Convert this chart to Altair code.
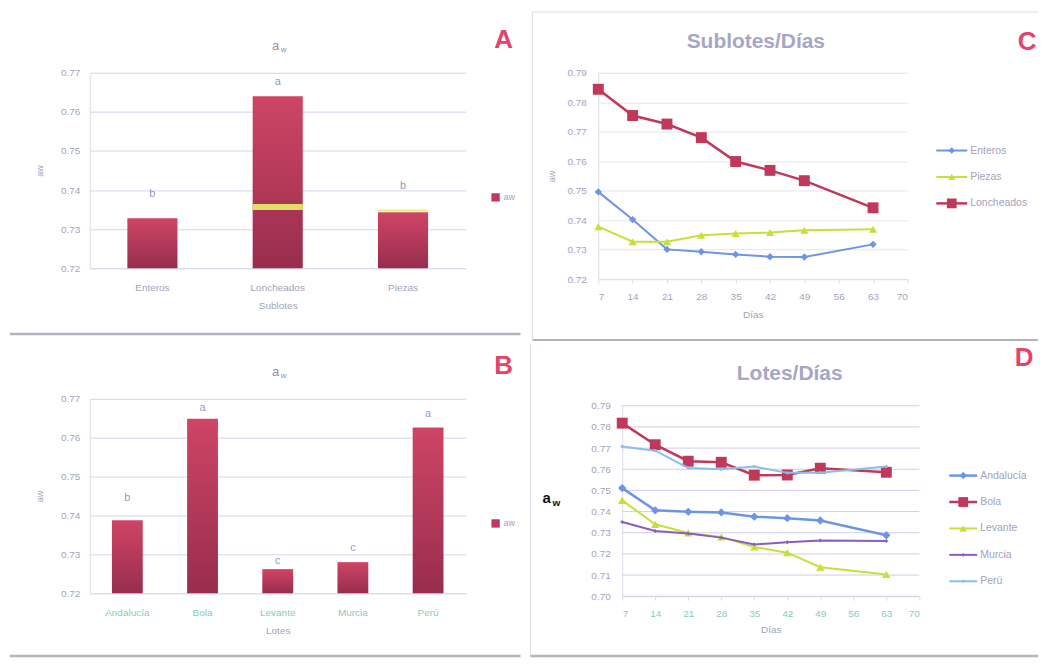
import altair as alt
import pandas as pd

# ---------------- data ----------------
# Panel A (Sublotes)
sublotes = ["Enteros", "Loncheados", "Piezas"]
aw_sublotes = [0.7328, 0.7640, 0.7343]
letras_sublotes = ["b", "a", "b"]
pos_letras_sublotes = [0.7391, 0.7677, 0.7409]
banda_sublotes = ["Loncheados", "Piezas"]
banda_inf = [0.7349, 0.7345]
banda_sup = [0.7364, 0.7350]

# Panel B (Lotes)
lotes = ["Andalucía", "Bola", "Levante", "Murcia", "Perú"]
aw_lotes = [0.7388, 0.7649, 0.7262, 0.7280, 0.7626]
letras_lotes = ["b", "a", "c", "c", "a"]
pos_letras_lotes = [0.7444, 0.7677, 0.7282, 0.7316, 0.7662]

# Panel C (Sublotes/Días)
dias = [7, 14, 21, 28, 35, 42, 49, 63]
c_enteros = [0.7496, 0.7402, 0.7301, 0.7293, 0.7284, 0.7276, 0.7275, 0.7318]
c_piezas = [0.7378, 0.7327, 0.7327, 0.7349, 0.7355, 0.7358, 0.7366, 0.7369]
c_loncheados = [0.7844, 0.7755, 0.7726, 0.7680, 0.7599, 0.7569, 0.7534, 0.7442]

# Panel D (Lotes/Días)
d_andalucia = [0.7511, 0.7406, 0.7399, 0.7396, 0.7376, 0.7369, 0.7358, 0.7288]
d_bola = [0.7818, 0.7716, 0.7638, 0.7633, 0.7572, 0.7573, 0.7605, 0.7586]
d_levante = [0.7453, 0.7340, 0.7299, 0.7280, 0.7233, 0.7206, 0.7137, 0.7103]
d_murcia = [0.7351, 0.7308, 0.7296, 0.7277, 0.7245, 0.7255, 0.7263, 0.7261]
d_peru = [0.7708, 0.7688, 0.7606, 0.7600, 0.7613, 0.7583, 0.7584, 0.7613]

ticks_ab = [0.72, 0.73, 0.74, 0.75, 0.76, 0.77]
ticks_c = [0.72, 0.73, 0.74, 0.75, 0.76, 0.77, 0.78, 0.79]
ticks_d = [0.70, 0.71, 0.72, 0.73, 0.74, 0.75, 0.76, 0.77, 0.78, 0.79]
ticks_dias = [7, 14, 21, 28, 35, 42, 49, 56, 63, 70]

# ---------------- style ----------------
TXT = "#A3A3BC"
TITLE = "#A6A6C6"
TEAL = "#86CDB8"
PINK = "#E4436B"
GRID = "#D4D4EC"
SEP = "#B4B4C0"
FAINT = "#DCDCE6"
BLUE = "#6E95E4"
YG = "#C6E03A"
CRIM = "#C0385A"
PURP = "#8A5CC2"
LBLUE = "#88BEF0"

bar_fill = alt.Gradient(
    gradient="linear", x1=0, x2=0, y1=0, y2=1,
    stops=[alt.GradientStop(color="#CF4565", offset=0),
           alt.GradientStop(color="#982D4E", offset=1)],
)

one = pd.DataFrame({"k": [0]})


def text_at(x, y, s, size=10, color=TXT, weight="normal", align="center", angle=0):
    return alt.Chart(one).mark_text(
        align=align, baseline="middle", fontSize=size, color=color,
        fontWeight=weight, angle=angle,
    ).encode(x=alt.value(x), y=alt.value(y), text=alt.value(s))


def hline(x0, x1, y, color, w):
    return alt.Chart(one).mark_rule(color=color, strokeWidth=w).encode(
        x=alt.value(x0), x2=alt.value(x1), y=alt.value(y))


def vline(x, y0, y1, color, w):
    return alt.Chart(one).mark_rule(color=color, strokeWidth=w).encode(
        x=alt.value(x), y=alt.value(y0), y2=alt.value(y1))


def legend_line(x0, x1, y, color, shape, size, label, sw):
    return [
        hline(x0, x1, y, color, sw),
        alt.Chart(one).mark_point(shape=shape, filled=True, color=color, size=size, opacity=1).encode(
            x=alt.value((x0 + x1) / 2), y=alt.value(y)),
        text_at(x1 + 3, y, label, size=10.5, align="left"),
    ]


def legend_square(x, y, label):
    return [
        alt.Chart(one).mark_point(shape="square", filled=True, color=CRIM, size=70, opacity=1).encode(
            x=alt.value(x), y=alt.value(y)),
        text_at(x + 8, y, label, size=9, align="left"),
    ]


def bar_panel(cats, vals, letras, pos_letras, xtitle, letter, w, h, label_color, band=None, bottom_line=None):
    df = pd.DataFrame({"cat": cats, "aw": vals, "letra": letras, "pos": pos_letras})
    pad_i = 0.6 if len(cats) == 3 else 0.59
    pad_o = pad_i / 2
    xs = alt.Scale(domain=cats, paddingInner=pad_i, paddingOuter=pad_o)
    ys = alt.Scale(domain=[0.72, 0.77], zero=False, nice=False)
    xax = alt.Axis(title=xtitle, labelAngle=0, labelColor=label_color, labelFontSize=10,
                   labelPadding=14, ticks=False, domainColor=FAINT, titleColor=TXT,
                   titleFontSize=10, titleFontWeight="normal", titlePadding=8)
    yax = alt.Axis(values=ticks_ab, format=".2f", labelColor=TXT, labelFontSize=10,
                   gridColor=GRID, domainColor=FAINT, ticks=False, labelPadding=10,
                   title="aw", titleColor=TXT, titleFontSize=9, titleFontWeight="normal",
                   titlePadding=16)
    X = lambda f: alt.X(f, scale=xs, sort=cats, axis=xax)
    Y = lambda f: alt.Y(f, scale=ys, axis=yax)
    base = alt.Chart(df)
    bars = base.mark_bar(color=bar_fill).encode(x=X("cat:N"), y=Y("aw:Q"), y2=alt.datum(0.72))
    letras_l = base.mark_text(fontSize=11, color="#9A9AB4", baseline="middle").encode(
        x=X("cat:N"), y=Y("pos:Q"), text="letra:N")
    layers = [bars]
    if band is not None:
        bdf = pd.DataFrame({"cat": band[0], "lo": band[1], "hi": band[2]})
        layers.append(alt.Chart(bdf).mark_bar(color="#E6F06A", opacity=0.9).encode(
            x=X("cat:N"), y=Y("lo:Q"), y2="hi:Q"))
    layers.append(letras_l)
    layers += [
        text_at(w / 2 - 2, -27, "a", size=13, color="#9090AA"),
        text_at(w / 2 + 6, -23, "w", size=8, color="#9090AA"),
        text_at(415, -33, letter, size=26, color=PINK, weight="bold"),
    ]
    layers += legend_square(407, 125, "aw")
    layers.append(hline(-80, 432, bottom_line, SEP, 2.5))
    return alt.layer(*layers).properties(width=w, height=h)


# ---------------- Panel A ----------------
panel_a = bar_panel(sublotes, aw_sublotes, letras_sublotes, pos_letras_sublotes,
                    "Sublotes", "A", 377, 196, TXT,
                    band=(banda_sublotes, banda_inf, banda_sup), bottom_line=262)

# ---------------- Panel B ----------------
panel_b = bar_panel(lotes, aw_lotes, letras_lotes, pos_letras_lotes,
                    "Lotes", "B", 377, 195, TEAL, bottom_line=258)

# ---------------- Panel C ----------------
c_series = ["Enteros", "Piezas", "Loncheados"]
c_colors = [BLUE, YG, CRIM]
c_shapes = ["diamond", "triangle-up", "square"]
c_sizes = [55, 65, 120]
c_widths = [2, 2, 2.5]
c_values = [c_enteros, c_piezas, c_loncheados]

xs_c = alt.Scale(domain=[7, 70], nice=False, zero=False)
ys_c = alt.Scale(domain=[0.72, 0.79], nice=False, zero=False)
xax_c = alt.Axis(values=ticks_dias, labelColor=TXT, labelFontSize=10, labelPadding=8, tickColor=FAINT,
                 tickSize=4, domainColor=FAINT, title="Días", titleColor=TXT, titleFontSize=10,
                 titleFontWeight="normal", titlePadding=8, grid=False)
yax_c = alt.Axis(values=ticks_c, format=".2f", labelColor=TXT, labelFontSize=10, gridColor="#E4E4EE",
                 domainColor=FAINT, ticks=False, labelPadding=12, title="aw", titleColor=TXT,
                 titleFontSize=9, titleFontWeight="normal", titlePadding=10)
c_layers = []
for name, col, shp, sz, sw, vals in zip(c_series, c_colors, c_shapes, c_sizes, c_widths, c_values):
    df = pd.DataFrame({"dia": dias, "aw": vals})
    enc = dict(x=alt.X("dia:Q", scale=xs_c, axis=xax_c), y=alt.Y("aw:Q", scale=ys_c, axis=yax_c))
    c_layers.append(alt.Chart(df).mark_line(color=col, strokeWidth=sw).encode(**enc))
    c_layers.append(alt.Chart(df).mark_point(shape=shp, filled=True, color=col, size=sz, opacity=1).encode(**enc))
c_layers += [
    text_at(158, -31, "Sublotes/Días", size=21, color=TITLE, weight="bold"),
    text_at(430, -31, "C", size=26, color=PINK, weight="bold"),
]
for i, (name, col, shp, sz, sw) in enumerate(zip(c_series, c_colors, c_shapes, c_sizes, c_widths)):
    c_layers += legend_line(339, 370, 78 + i * 26.5, col, shp, sz * 0.8, name, sw)
c_layers += [
    hline(-66, 441, -61, FAINT, 1),
    vline(-66, -61, 268, FAINT, 1),
    hline(-66, 441, 268, SEP, 2),
]
panel_c = alt.layer(*c_layers).properties(width=310, height=207)

# ---------------- Panel D ----------------
d_series = ["Andalucía", "Bola", "Levante", "Murcia", "Perú"]
d_colors = [BLUE, CRIM, YG, PURP, LBLUE]
d_shapes = ["diamond", "square", "triangle-up", "cross", "circle"]
d_sizes = [70, 120, 70, 12, 10]
d_widths = [2.5, 2.5, 2, 2, 2]
d_values = [d_andalucia, d_bola, d_levante, d_murcia, d_peru]

xs_d = alt.Scale(domain=[7, 70], range=[24, 322], nice=False, zero=False)
ys_d = alt.Scale(domain=[0.70, 0.79], range=[198, 7], nice=False, zero=False)
xax_d = alt.Axis(values=ticks_dias, labelColor=TEAL, labelFontSize=10, labelPadding=8, tickColor=FAINT,
                 tickSize=4, domainColor=FAINT, title="Días", titleColor=TXT, titleFontSize=10,
                 titleFontWeight="normal", titlePadding=6, grid=False)
yax_d = alt.Axis(values=ticks_d, format=".2f", labelColor=TXT, labelFontSize=10, grid=False,
                 domainColor=FAINT, ticks=False, labelPadding=12, offset=-24, title=None)
grid_df = pd.DataFrame({"aw": ticks_d})
d_layers = [alt.Chart(grid_df).mark_rule(color="#D2CCEC", strokeWidth=1).encode(
    y=alt.Y("aw:Q", scale=ys_d, axis=yax_d), x=alt.value(24), x2=alt.value(322))]
for i, (name, col, shp, sz, sw, vals) in enumerate(zip(d_series, d_colors, d_shapes, d_sizes, d_widths, d_values)):
    df = pd.DataFrame({"dia": dias, "aw": vals})
    enc = dict(x=alt.X("dia:Q", scale=xs_d, axis=xax_d), y=alt.Y("aw:Q", scale=ys_d, axis=yax_d))
    d_layers.append(alt.Chart(df).mark_line(color=col, strokeWidth=sw).encode(**enc))
    d_layers.append(alt.Chart(df).mark_point(shape=shp, filled=True, color=col, size=sz, opacity=1).encode(**enc))
d_layers += [
    text_at(192, -25, "Lotes/Días", size=21, color=TITLE, weight="bold"),
    text_at(427, -41, "D", size=26, color=PINK, weight="bold"),
    text_at(-56, 99, "a", size=15, color="#111111", weight="bold", align="left"),
    text_at(-46, 105, "w", size=10, color="#111111", weight="bold", align="left"),
]
for i, (name, col, shp, sz, sw) in enumerate(zip(d_series, d_colors, d_shapes, d_sizes, d_widths)):
    d_layers += legend_line(352, 380, 77 + i * 26.5, col, shp, sz * 0.8, name, sw)
d_layers += [
    vline(-68, -55, 258, FAINT, 1),
    hline(-68, 441, 258, SEP, 2.5),
]
panel_d = alt.layer(*d_layers).properties(width=322, height=198)

# ---------------- layout ----------------
chart = alt.concat(
    panel_a, panel_c, panel_b, panel_d,
    columns=2, spacing={"row": 120, "column": 133}, bounds="flush", align="all",
).properties(
    padding={"left": 0, "top": 2, "right": 0, "bottom": 0}
).configure(
    font="Liberation Sans"
).configure_view(stroke=None)

chart.save("out.html", embed_options={"renderer": "svg", "actions": False})
